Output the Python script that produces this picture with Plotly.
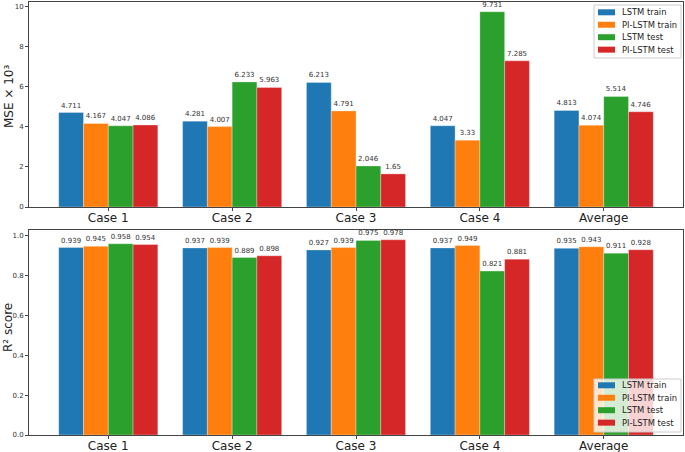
import plotly.graph_objects as go

cases = ["Case 1", "Case 2", "Case 3", "Case 4", "Average"]
series_names = ["LSTM train", "PI-LSTM train", "LSTM test", "PI-LSTM test"]
colors = ["#1f77b4", "#ff7f0e", "#2ca02c", "#d62728"]

mse_lstm_train = [4.711, 4.281, 6.213, 4.047, 4.813]
mse_pi_train = [4.167, 4.007, 4.791, 3.33, 4.074]
mse_lstm_test = [4.047, 6.233, 2.046, 9.731, 5.514]
mse_pi_test = [4.086, 5.963, 1.65, 7.285, 4.746]

r2_lstm_train = [0.939, 0.937, 0.927, 0.937, 0.935]
r2_pi_train = [0.945, 0.939, 0.939, 0.949, 0.943]
r2_lstm_test = [0.958, 0.889, 0.975, 0.821, 0.911]
r2_pi_test = [0.954, 0.898, 0.978, 0.881, 0.928]

mse_series = [mse_lstm_train, mse_pi_train, mse_lstm_test, mse_pi_test]
r2_series = [r2_lstm_train, r2_pi_train, r2_lstm_test, r2_pi_test]

W, H = 685, 452
ML, MR, MT, MB = 29, 2, 2, 16
PW, PH = W - ML - MR, H - MT - MB


def px(x):
    return (x - ML) / PW


def py(y):
    return (H - MB - y) / PH


fig = go.Figure()
FONT = "DejaVu Sans"

for i, (name, vals) in enumerate(zip(series_names, mse_series)):
    fig.add_trace(go.Bar(
        x=cases, y=vals, name=name, marker_color=colors[i],
        marker_line=dict(color="rgba(255,255,255,0.6)", width=0.5),
        text=[f"{v:g}" for v in vals], textposition="outside",
        textfont=dict(size=7, color="#333"), cliponaxis=False,
        xaxis="x", yaxis="y", showlegend=False,
    ))
for i, (name, vals) in enumerate(zip(series_names, r2_series)):
    fig.add_trace(go.Bar(
        x=cases, y=vals, name=name, marker_color=colors[i],
        marker_line=dict(color="rgba(255,255,255,0.6)", width=0.5),
        text=[f"{v:g}" for v in vals], textposition="outside",
        textfont=dict(size=7, color="#333"), cliponaxis=False,
        xaxis="x2", yaxis="y2", showlegend=False,
    ))

axis_common = dict(showline=True, mirror=True, linecolor="#444", linewidth=1,
                   ticks="outside", ticklen=3, tickcolor="#444", showgrid=False,
                   zeroline=False, automargin=False)

shapes = []
annotations = [
    dict(text="MSE × 10³", xref="paper", yref="paper", x=px(9),
         y=py(96), textangle=-90, showarrow=False,
         font=dict(size=12), xanchor="center", yanchor="middle"),
    dict(text="R² score", xref="paper", yref="paper", x=px(8),
         y=py(328), textangle=-90, showarrow=False,
         font=dict(size=12), xanchor="center", yanchor="middle"),
]

# legends (matplotlib style boxes) for the two panels
for box_top, row0 in [(5, 12.3), (379, 385.3)]:
    box_bottom = box_top + 53
    shapes.append(dict(type="rect", xref="paper", yref="paper",
                       x0=px(594), x1=px(681), y0=py(box_bottom), y1=py(box_top),
                       fillcolor="rgba(255,255,255,0.8)",
                       line=dict(color="#cccccc", width=1), layer="above"))
    for k, (name, col) in enumerate(zip(series_names, colors)):
        yc = row0 + 12.45 * k
        shapes.append(dict(type="rect", xref="paper", yref="paper",
                           x0=px(598), x1=px(615), y0=py(yc + 3), y1=py(yc - 3),
                           fillcolor=col, line=dict(width=0), layer="above"))
        annotations.append(dict(text=name, xref="paper", yref="paper",
                                x=px(620), y=py(yc), xanchor="left", yanchor="middle",
                                showarrow=False, font=dict(size=8.4, color="#222")))

fig.update_layout(
    width=W, height=H,
    margin=dict(l=ML, r=MR, t=MT, b=MB, autoexpand=False),
    paper_bgcolor="white", plot_bgcolor="white",
    font=dict(family=FONT, color="#222"),
    barmode="group", bargap=0.2, bargroupgap=0,
    uniformtext=dict(minsize=7, mode="show"),
    showlegend=False,
    xaxis=dict(domain=[0, 1], anchor="y", range=[-0.64, 4.64],
               tickfont=dict(size=12), ticklabelstandoff=-3, **axis_common),
    yaxis=dict(domain=[py(207), py(2)], anchor="x", range=[0, 10.22],
               tickvals=[0, 2, 4, 6, 8, 10], tickfont=dict(size=7, color="#333"),
               **axis_common),
    xaxis2=dict(domain=[0, 1], anchor="y2", range=[-0.64, 4.64],
                tickfont=dict(size=12), ticklabelstandoff=-3, **axis_common),
    yaxis2=dict(domain=[py(435), py(230)], anchor="x2", range=[0, 1.027],
                tickvals=[0, 0.2, 0.4, 0.6, 0.8, 1.0], tickformat=".1f",
                tickfont=dict(size=7, color="#333"),
                **axis_common),
    shapes=shapes,
    annotations=annotations,
)

fig.write_html(
    "out.html",
    config={"displayModeBar": False},
    post_script="document.body.style.margin='0';document.body.style.overflow='hidden';",
)
